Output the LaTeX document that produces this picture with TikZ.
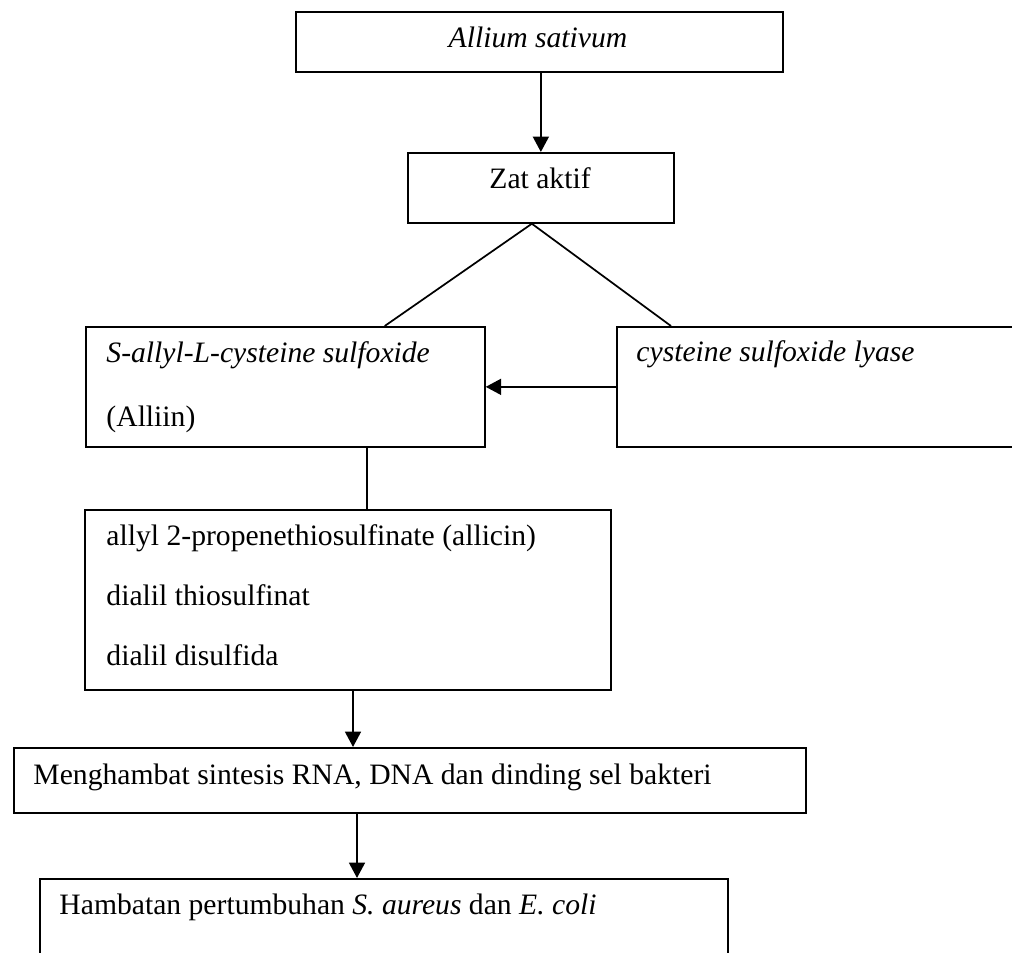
\documentclass[tikz,border=0pt]{standalone}
\usepackage{fontspec}
\setmainfont{Liberation Serif}
\usetikzlibrary{arrows.meta,calc,positioning}

\begin{document}
\begin{tikzpicture}[x=0.405pt, y=-0.405pt, font=\fontsize{12}{14.4}\selectfont,
    kotak/.style 2 args={draw, line width=0.7pt, inner sep=0pt, anchor=north west,
      minimum width={#1*0.405pt}, minimum height={#2*0.405pt}},
    teks/.style={inner sep=0pt, anchor=base west},
    panah/.style={-{Triangle[length=6.2pt,width=6.4pt]}, line width=0.85pt},
    garis/.style={line width=0.7pt}]
  \path[use as bounding box, clip] (0,0) rectangle (1012,953);
  % kotak
  \node[kotak={487}{60}]  (allium)  at (295,11)  {};
  \node[kotak={266}{70}]  (zat)     at (407,152) {};
  \node[kotak={399}{120}] (alliin)  at (85,326)  {};
  \node[kotak={430}{120}] (lyase)   at (616,326) {};
  \node[kotak={526}{180}] (allicin) at (84,509)  {};
  \node[kotak={792}{65}]  (hambat)  at (13,747)  {};
  \node[kotak={688}{130}] (hasil)   at (39,878)  {};
  % teks
  \node[teks, anchor=base] (allium-t) at (538,48) {\textit{Allium sativum}};
  \node[teks, anchor=base] (zat-t) at (540,189) {Zat aktif};
  \node[teks] (alliin-t1) at (106,363) {\textit{S-allyl-L-cysteine sulfoxide}};
  \node[teks] (alliin-t2) at (106,427) {(Alliin)};
  \node[teks] (lyase-t) at (636,362) {\textit{cysteine sulfoxide lyase}};
  \node[teks] (allicin-t1) at (106,546) {allyl 2-propenethiosulfinate (allicin)};
  \node[teks] (allicin-t2) at (106,606) {dialil thiosulfinat};
  \node[teks] (allicin-t3) at (106,666) {dialil disulfida};
  \node[teks] (hambat-t) at (33,784) {Menghambat sintesis RNA, DNA dan dinding sel bakteri};
  \node[teks] (hasil-t) at (59,914) {Hambatan pertumbuhan \textit{S. aureus} dan \textit{E. coli}};
  % penghubung
  \coordinate (puncak) at ($(zat.south)+(-9,0)$);
  \coordinate (a1) at ($(alliin.south east)+(-119,0)$);
  \coordinate (b1) at ($(allicin.south west)+(269,0)$);
  \coordinate (c1) at ($(hambat.south west)+(344,0)$);
  \draw[panah] (allium.south -| zat.north) -- (zat.north);
  \draw[garis] ($(alliin.north east)+(-101,0)$) -- (puncak) -- ($(lyase.north west)+(55,0)$);
  \draw[panah] (lyase.west) -- (alliin.east);
  \draw[garis] (a1) -- (a1 |- allicin.north);
  \draw[panah] (b1) -- (b1 |- hambat.north);
  \draw[panah] (c1) -- (c1 |- hasil.north);
\end{tikzpicture}
\end{document}
